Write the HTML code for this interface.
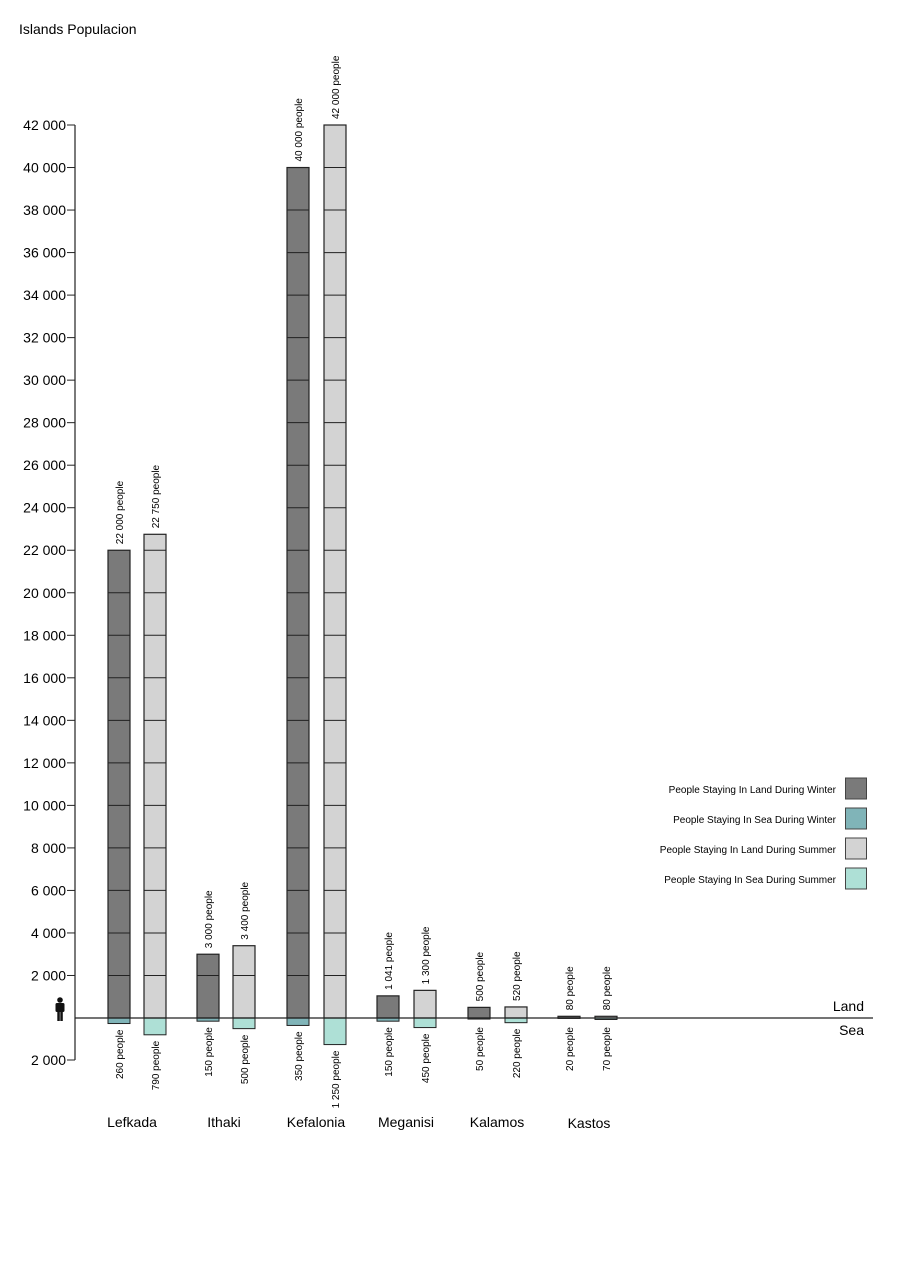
<!DOCTYPE html>
<html><head><meta charset="utf-8"><style>
body{margin:0;background:#fff;}
svg{display:block;font-family:"Liberation Sans",Arial,sans-serif;}
</style></head><body>
<svg id="c" width="900" height="1273" xmlns="http://www.w3.org/2000/svg"></svg>
<script>
const s=document.getElementById('c');
const Y0=1018,k=(1018-125)/42000;
let h='<rect width="900" height="1273" fill="#fff"/>';
h+='<text x="19" y="34" font-size="14">Islands Populacion</text>';
h+='<line x1="75" y1="125" x2="75" y2="1060" stroke="#222" stroke-width="1.2"/>';
for(let v=2000;v<=42000;v+=2000){const y=Y0-v*k;
h+=`<line x1="67" y1="${y}" x2="75" y2="${y}" stroke="#222"/>`;
h+=`<text x="66" y="${y+5}" font-size="14" text-anchor="end">${(v/1000)+' 000'}</text>`;}
h+=`<line x1="67" y1="1060" x2="75" y2="1060" stroke="#222"/><text x="66" y="1065" font-size="14" text-anchor="end">2 000</text>`;
h+='<circle cx="60" cy="1000" r="2.8" fill="#111"/><rect x="55.5" y="1003" width="9" height="9" rx="1.5" fill="#111"/><rect x="57.3" y="1010" width="2.5" height="11" fill="#111"/><rect x="60.3" y="1010" width="2.5" height="11" fill="#111"/>';
const bars=[
[108,22000,260,'22 000','260',0],[144,22750,790,'22 750','790',1],
[197,3000,150,'3 000','150',0],[233,3400,500,'3 400','500',1],
[287,40000,350,'40 000','350',0],[324,42000,1250,'42 000','1 250',1],
[377,1041,150,'1 041','150',0],[414,1300,450,'1 300','450',1],
[468,500,50,'500','50',0],[505,520,220,'520','220',1],
[558,80,20,'80','20',0],[595,80,70,'80','70',1]];
for(const [x,l,sv,lt,st,su] of bars){
 const w=22,top=Y0-l*k,sh=sv*k;
 h+=`<rect x="${x}" y="${Y0}" width="${w}" height="${sh}" fill="${su?'#aee0d6':'#80b4b8'}" stroke="#222" stroke-width="1"/>`;
 h+=`<rect x="${x}" y="${top}" width="${w}" height="${l*k}" fill="${su?'#d3d3d3':'#7a7a7a'}" stroke="#222" stroke-width="1.2"/>`;
 for(let v=2000;v<l;v+=2000){const y=Y0-v*k;h+=`<line x1="${x}" y1="${y}" x2="${x+w}" y2="${y}" stroke="#222"/>`;}
 const cx=x+w/2+4;
 h+=`<text transform="translate(${cx},${top-6}) rotate(-90)" font-size="10">${lt} people</text>`;
 h+=`<text transform="translate(${cx},${Math.max(1027,Y0+sh+6)}) rotate(-90)" font-size="10" text-anchor="end">${st} people</text>`;
}
h+='<line x1="75" y1="1018" x2="873" y2="1018" stroke="#222" stroke-width="1.2"/>';
h+='<text x="864" y="1011" font-size="14" text-anchor="end">Land</text><text x="864" y="1035" font-size="14" text-anchor="end">Sea</text>';
const names=[['Lefkada',132],['Ithaki',224],['Kefalonia',316],['Meganisi',406],['Kalamos',497],['Kastos',589]];
for(const [n,x] of names)h+=`<text x="${x}" y="${n=='Kastos'?1128:1127}" font-size="14" text-anchor="middle">${n}</text>`;
const leg=[['People Staying In Land During Winter','#7a7a7a'],['People Staying In Sea During Winter','#80b4b8'],['People Staying In Land During Summer','#d3d3d3'],['People Staying In Sea During Summer','#aee0d6']];
leg.forEach(([t,c],i)=>{const y=778+i*30;
h+=`<text x="836" y="${y+15}" font-size="10" text-anchor="end">${t}</text><rect x="845.5" y="${y}" width="21" height="21" fill="${c}" stroke="#444"/>`;});
s.innerHTML=h;
</script>
</body></html>
